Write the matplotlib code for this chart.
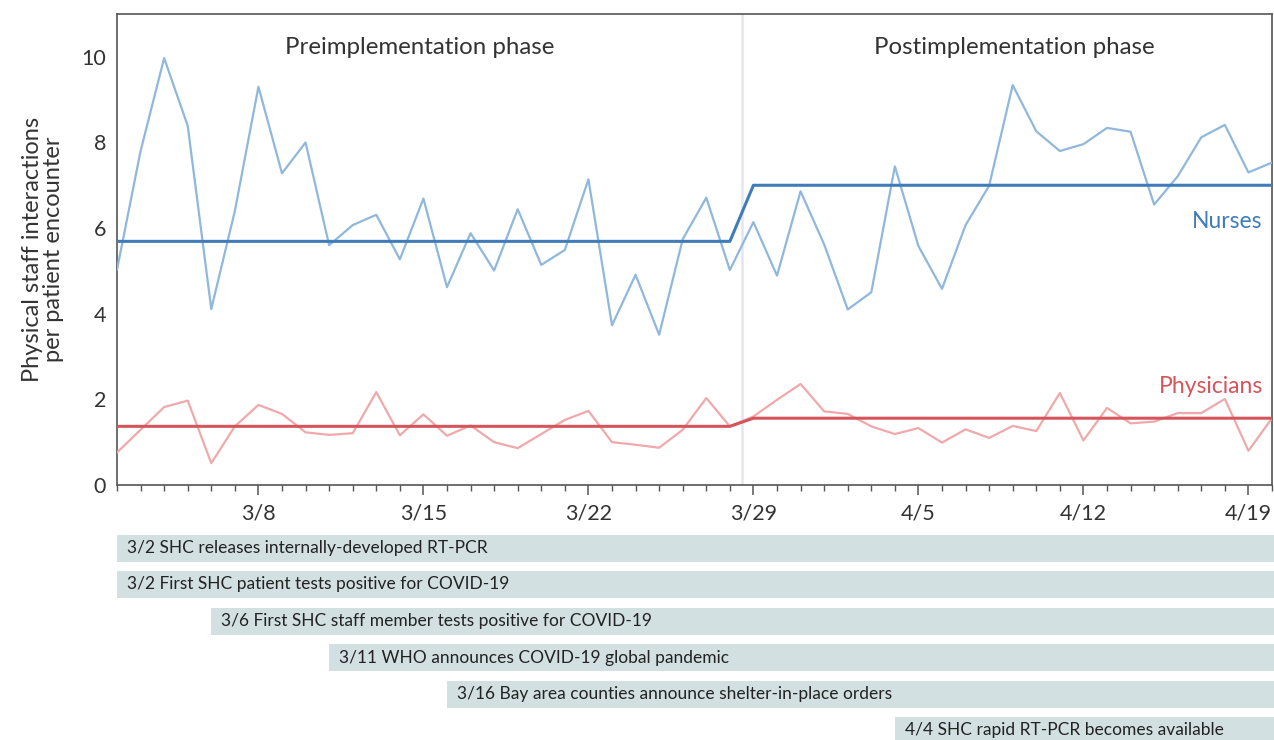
import numpy as np
import pandas as pd
import matplotlib
matplotlib.use("Agg")
import matplotlib.pyplot as plt
import matplotlib.dates as mdates

plt.rcParams['font.family'] = ['Lato', 'DejaVu Sans']

# ---------------- data ----------------
dates = pd.date_range("2020-03-02", "2020-04-20", freq="D")

nurses = [5.03, 7.8, 9.97, 8.39, 4.11, 6.40, 9.30, 7.28, 8.00, 5.60,
          6.07, 6.31, 5.27, 6.69, 4.62, 5.88, 5.01, 6.44, 5.14, 5.49,
          7.14, 3.73, 4.91, 3.51, 5.74, 6.71, 5.02, 6.14, 4.89, 6.86,
          5.62, 4.10, 4.50, 7.44, 5.58, 4.58, 6.07, 6.99, 9.34, 8.26,
          7.80, 7.96, 8.34, 8.25, 6.55, 7.21, 8.12, 8.41, 7.30, 7.53]

physicians = [0.76, 1.29, 1.82, 1.97, 0.51, 1.37, 1.87, 1.66, 1.23, 1.17,
              1.21, 2.17, 1.16, 1.65, 1.15, 1.39, 1.00, 0.86, 1.19, 1.52,
              1.73, 1.00, 0.94, 0.87, 1.29, 2.03, 1.37, 1.60, 1.99, 2.36,
              1.72, 1.66, 1.37, 1.19, 1.33, 0.99, 1.30, 1.10, 1.38, 1.26,
              2.15, 1.04, 1.80, 1.44, 1.48, 1.68, 1.68, 2.01, 0.80, 1.56]

implementation_date = "2020-03-29"
nurse_means = [5.69, 7.0]        # pre, post
physician_means = [1.37, 1.56]   # pre, post

event_dates = ["2020-03-02", "2020-03-02", "2020-03-06", "2020-03-11",
               "2020-03-16", "2020-04-04"]
event_labels = ["3/2 SHC releases internally-developed RT-PCR",
                "3/2 First SHC patient tests positive for COVID-19",
                "3/6 First SHC staff member tests positive for COVID-19",
                "3/11 WHO announces COVID-19 global pandemic",
                "3/16 Bay area counties announce shelter-in-place orders",
                "4/4 SHC rapid RT-PCR becomes available"]

# ---------------- styling ----------------
W, H = 1274, 740
fig = plt.figure(figsize=(W / 100, H / 100), dpi=100)

ax_l, ax_r, ax_t, ax_b = 117, 1272, 14, 485
ax = fig.add_axes([ax_l / W, 1 - ax_b / H, (ax_r - ax_l) / W, (ax_b - ax_t) / H])

nurse_thin = "#8fb8dc"
nurse_thick = "#3f7cb9"
phys_thin = "#f0a9ab"
phys_thick = "#d5555c"
text_col = "#333333"

impl = pd.Timestamp(implementation_date)
pre = dates < impl

def step_series(means):
    return np.where(pre, means[0], means[1])

ax.plot(dates, nurses, color=nurse_thin, lw=1.6, zorder=3)
ax.plot(dates, physicians, color=phys_thin, lw=1.6, zorder=3)
ax.plot(dates, step_series(nurse_means), color=nurse_thick, lw=2.2, zorder=4)
ax.plot(dates, step_series(physician_means), color=phys_thick, lw=2.2, zorder=4)

divider = impl - pd.Timedelta(hours=12)
ax.axvline(divider, color="#e4e4f6", lw=1.8, zorder=1)

ax.set_xlim(dates[0], dates[-1])
ax.set_ylim(0, 11)
ax.set_yticks([0, 2, 4, 6, 8, 10])
ax.tick_params(axis='y', length=0, labelsize=15.5, labelcolor=text_col, pad=8)

ax.xaxis.set_major_locator(mdates.WeekdayLocator(byweekday=mdates.SU))
ax.xaxis.set_minor_locator(mdates.DayLocator())
ax.xaxis.set_major_formatter(plt.FuncFormatter(
    lambda v, p: f"{mdates.num2date(v).month}/{mdates.num2date(v).day}"))
ax.tick_params(axis='x', which='major', length=7, width=1.1, color="#555555",
               labelsize=15.5, labelcolor=text_col, pad=6)
ax.tick_params(axis='x', which='minor', length=4, width=1.0, color="#555555")

for s in ax.spines.values():
    s.set_color("#555555")
    s.set_linewidth(1.2)

ax.set_ylabel("Physical staff interactions\nper patient encounter",
              fontsize=17, color=text_col, linespacing=1.0, labelpad=12)

ax.text(0.262, 0.928, "Preimplementation phase", transform=ax.transAxes,
        ha='center', va='center', fontsize=17.3, color=text_col)
ax.text(0.777, 0.928, "Postimplementation phase", transform=ax.transAxes,
        ha='center', va='center', fontsize=17.3, color=text_col)
ax.text(0.992, 0.56, "Nurses", transform=ax.transAxes, ha='right',
        va='center', fontsize=16.5, color=nurse_thick)
ax.text(0.992, 0.21, "Physicians", transform=ax.transAxes, ha='right',
        va='center', fontsize=16.5, color=phys_thick)

# ---------------- event bars ----------------
bar_top, bar_bot = 525, 740
ax2 = fig.add_axes([ax_l / W, 1 - bar_bot / H, (W - ax_l) / W, (bar_bot - bar_top) / H])
x_start = mdates.date2num(dates[0])
x_span = mdates.date2num(dates[-1]) - x_start
ax2.set_xlim(x_start, x_start + x_span * (W - ax_l) / (ax_r - ax_l))
ax2.set_ylim(bar_bot, bar_top)
ax2.axis('off')

row_centers = [548.5, 584.5, 621, 657.5, 694, 730.5]
x_end = ax2.get_xlim()[1]
for d, lab, yc in zip(event_dates, event_labels, row_centers):
    x0 = mdates.date2num(pd.Timestamp(d))
    ax2.barh(yc, x_end - x0, left=x0, height=27, color="#d2e0e1", edgecolor='none')
    ax2.text(x0 + 0.42, yc, lab, ha='left', va='center', fontsize=12.5, color="#222222")

fig.savefig("out.png", dpi=100)
